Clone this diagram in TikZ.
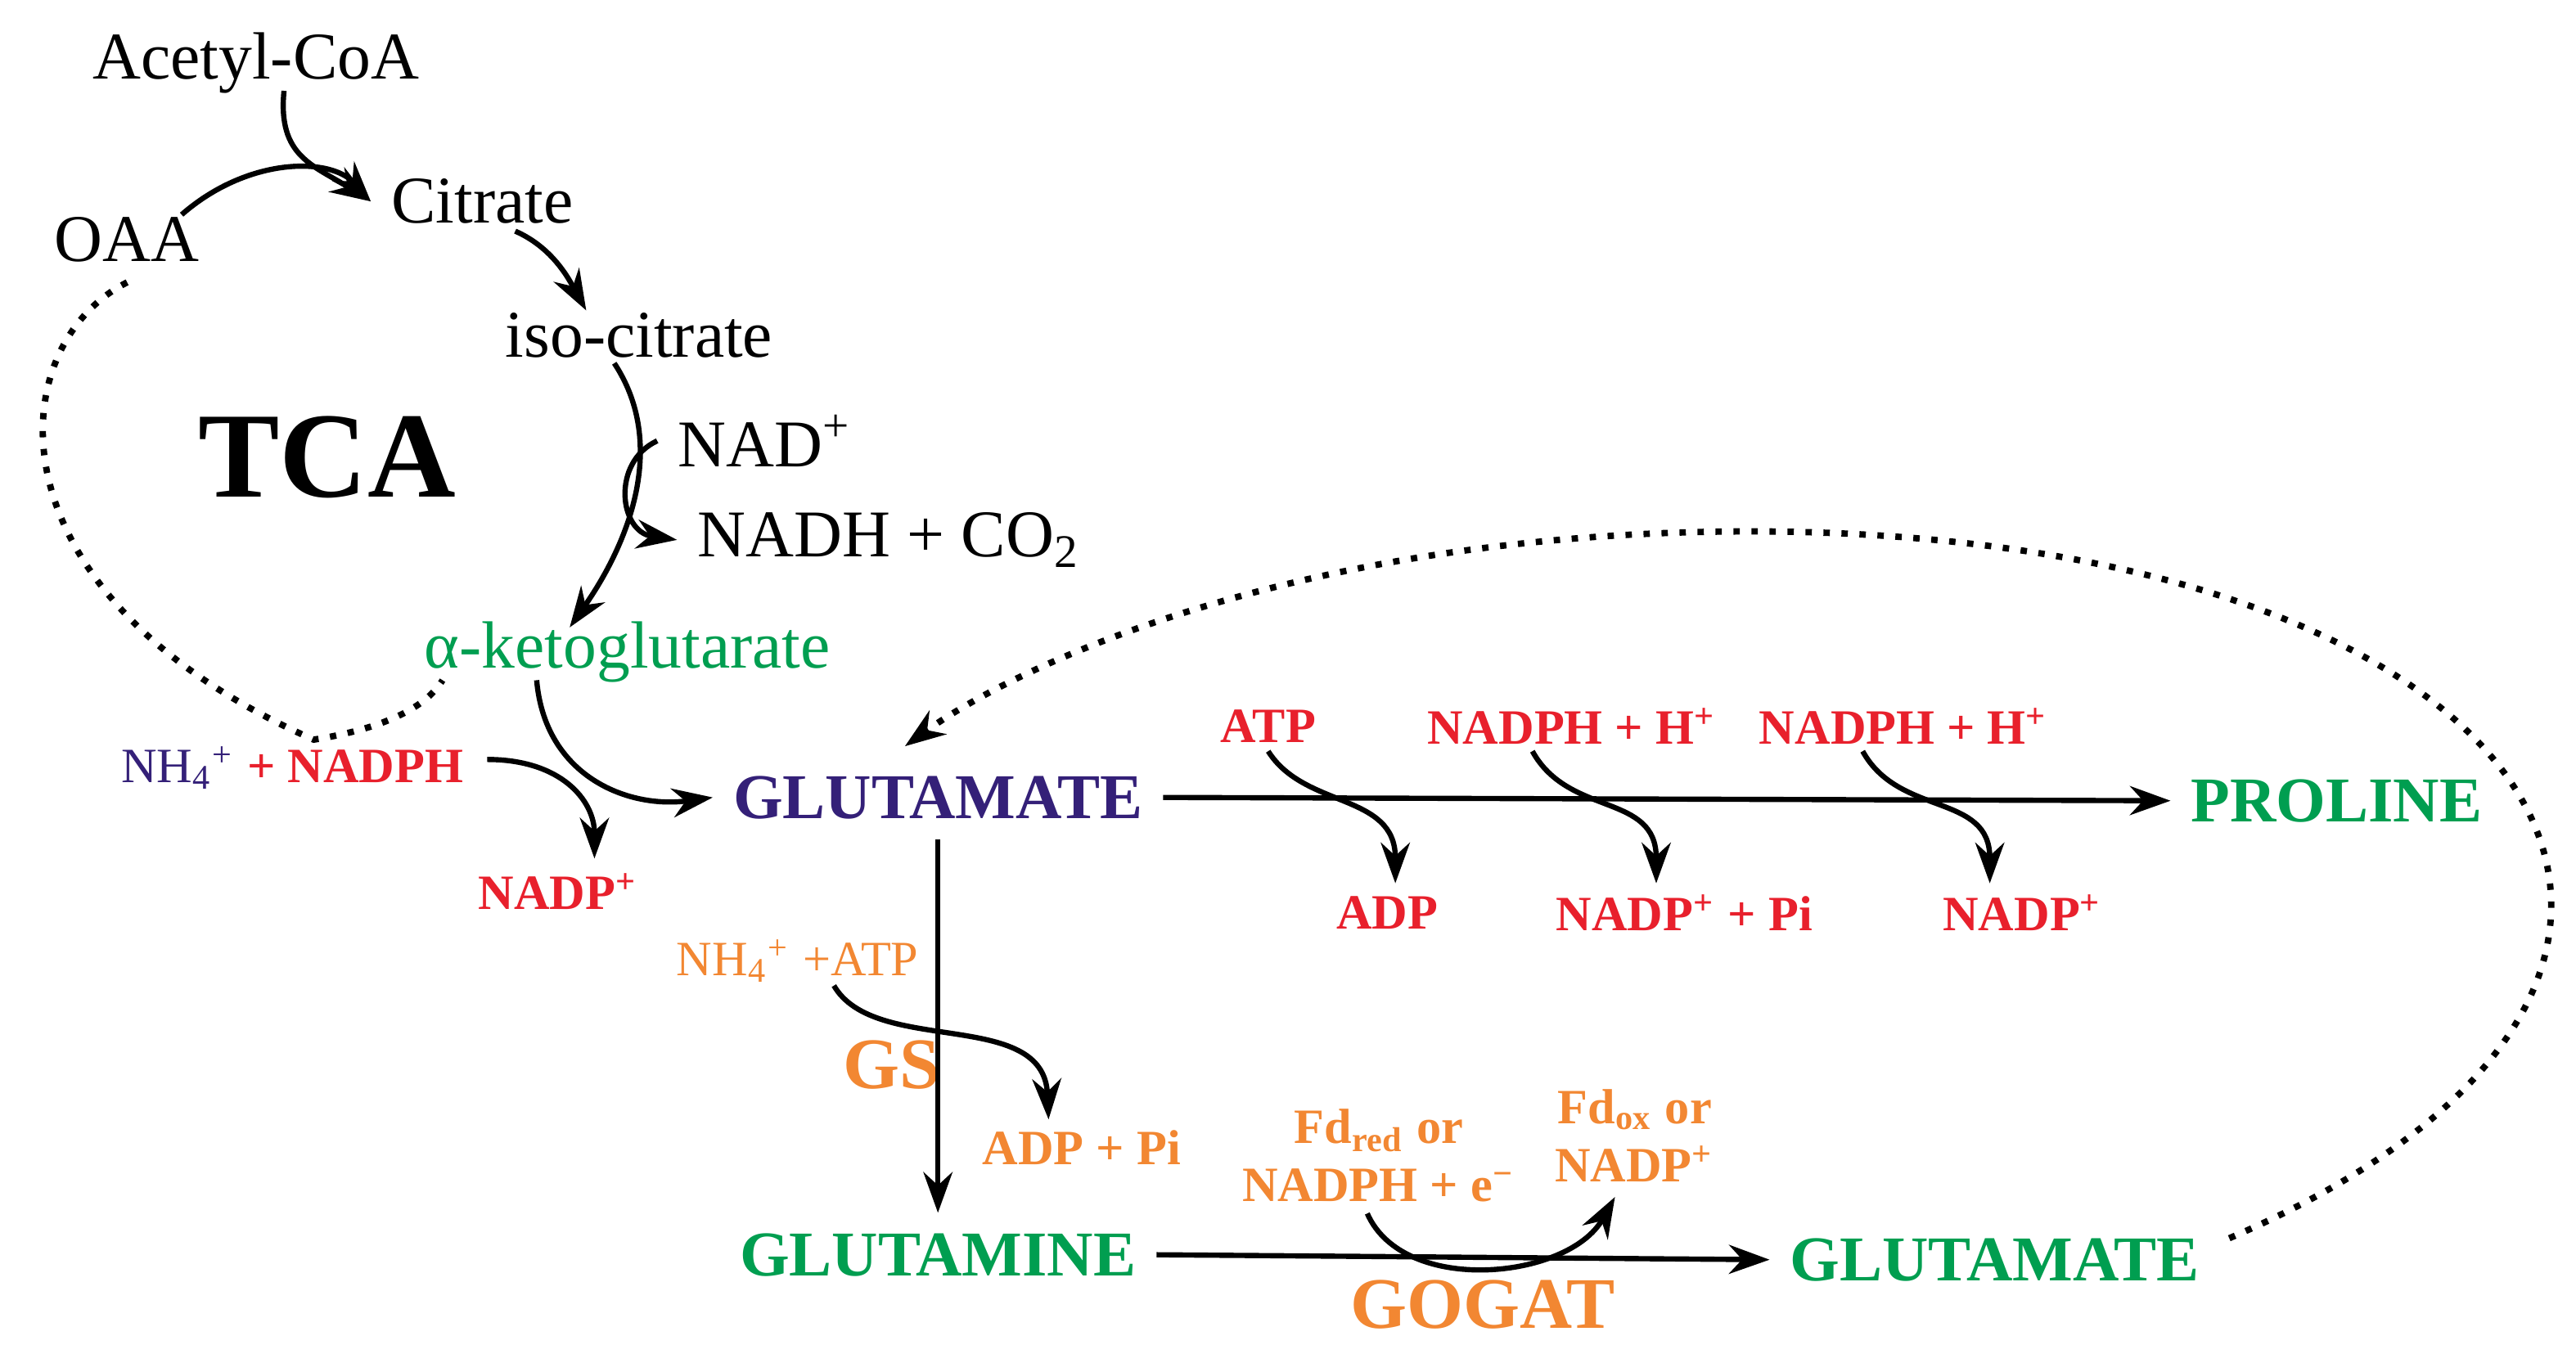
\documentclass[tikz,border=0pt]{standalone}
\usepackage{fontspec}
\setmainfont{Liberation Serif}
\usetikzlibrary{arrows.meta,calc}
\definecolor{gr}{RGB}{0,158,80}
\definecolor{pu}{RGB}{52,32,120}
\definecolor{rd}{RGB}{232,32,44}
\definecolor{orr}{RGB}{242,135,50}
\begin{document}
\begin{tikzpicture}[x=0.01cm,y=-0.01cm,
  ar/.style={-{Stealth[length=7pt,width=5pt]},line width=0.9pt},
  dt/.style={dotted,line width=1.1pt},
  t/.style={font=\fontsize{11.5}{13}\selectfont},
  bb/.style={font=\fontsize{11}{13}\selectfont\bfseries},
  sm/.style={font=\fontsize{8.5}{10}\selectfont\bfseries,text=rd}]
\useasboundingbox (0,0) rectangle (1560,820);
\node[t] (acoa) at (155,38) {Acetyl-CoA};
\node[t] (cit) at (292,122) {Citrate};
\node[t] (oaa) at (77,145) {OAA};
\node[t] (iso) at (387,203) {iso-citrate};
\node[t,anchor=west] (nad) at (398,267) {NAD\textsuperscript{+}};
\node[t,anchor=west] (nadh) at (410,327) {NADH + CO\textsubscript{2}};
\node[font=\fontsize{21}{24}\selectfont\bfseries] (tca) at (198,277) {TCA};
\node[t,text=gr] (akg) at (380,395) {α-ketoglutarate};
\node[font=\fontsize{8.5}{10}\selectfont,anchor=east] (nh) at (293,465) {\textcolor{pu}{NH\textsubscript{4}\textsuperscript{+}} \textcolor{rd}{\bfseries + NADPH}};
\node[sm] (nadp1) at (338,540) {NADP\textsuperscript{+}};
\node[bb,text=pu] (glu) at (568,483) {GLUTAMATE};
\node[bb,text=gr] (pro) at (1415,485) {PROLINE};
\node[sm] (atp) at (768,440) {ATP};
\node[sm] (adp) at (840,553) {ADP};
\node[sm] (nph1) at (952,440) {NADPH + H\textsuperscript{+}};
\node[sm] (np1) at (1020,553) {NADP\textsuperscript{+} + Pi};
\node[sm] (nph2) at (1153,440) {NADPH + H\textsuperscript{+}};
\node[sm] (np2) at (1225,553) {NADP\textsuperscript{+}};
\node[font=\fontsize{8.5}{10}\selectfont,text=orr] (nha) at (483,582) {NH\textsubscript{4}\textsuperscript{+} +ATP};
\node[font=\fontsize{12.5}{14}\selectfont\bfseries,text=orr] (gs) at (540,645) {GS};
\node[sm,text=orr] (adpi) at (655,695) {ADP + Pi};
\node[bb,text=gr] (gln) at (568,760) {GLUTAMINE};
\node[bb,text=gr] (glu2) at (1208,763) {GLUTAMATE};
\node[sm,text=orr,align=center] (fdr) at (835,700) {Fd\textsubscript{red} or\\NADPH + e\textsuperscript{−}};
\node[sm,text=orr,align=center] (fdo) at (990,688) {Fd\textsubscript{ox} or\\NADP\textsuperscript{+}};
\node[font=\fontsize{12.5}{14}\selectfont\bfseries,text=orr] (gogat) at (898,790) {GOGAT};
% TCA arrows
\draw[ar] (172,55) .. controls (168,95) and (190,100) .. (cit.west);
\draw[ar] (110,130) .. controls (150,95) and (200,95) .. (cit.west);
\draw[ar] (312,140) .. controls (335,150) and (345,170) .. (355,188);
\draw[ar] (372,220) .. controls (405,270) and (380,330) .. (345,380);
\draw[ar] (nad.west) .. controls (370,280) and (375,322) .. (nadh.west);
\draw[dt] (oaa.south) .. controls (0,210) and (-10,360) .. (190,448) .. controls (240,440) and (260,425) .. (268,412);
\draw[ar] (325,412) .. controls (330,470) and (380,490) .. (glu.west);
\draw[ar] (295,460) .. controls (340,460) and (360,485) .. (360,520);
% proline
\draw[ar] (glu.east) -- (pro.west);
\draw[ar] (768,455) .. controls (790,490) and (845,480) .. (845,535);
\draw[ar] (928,455) .. controls (950,495) and (1003,480) .. (1003,535);
\draw[ar] (1128,455) .. controls (1150,495) and (1205,480) .. (1205,535);
% glutamine
\draw[ar] (glu.south) -- (gln.north);
\draw[ar] (505,597) .. controls (530,640) and (632,610) .. (635,678);
\draw[ar] (gln.east) -- (glu2.west);
\draw[ar] (828,735) .. controls (850,785) and (950,775) .. (978,725);
\draw[dt,-{Stealth[length=7pt,width=5pt]}] (1350,750) .. controls (1700,600) and (1560,330) .. (1080,322) .. controls (800,318) and (620,400) .. (548,452);
\end{tikzpicture}
\end{document}
